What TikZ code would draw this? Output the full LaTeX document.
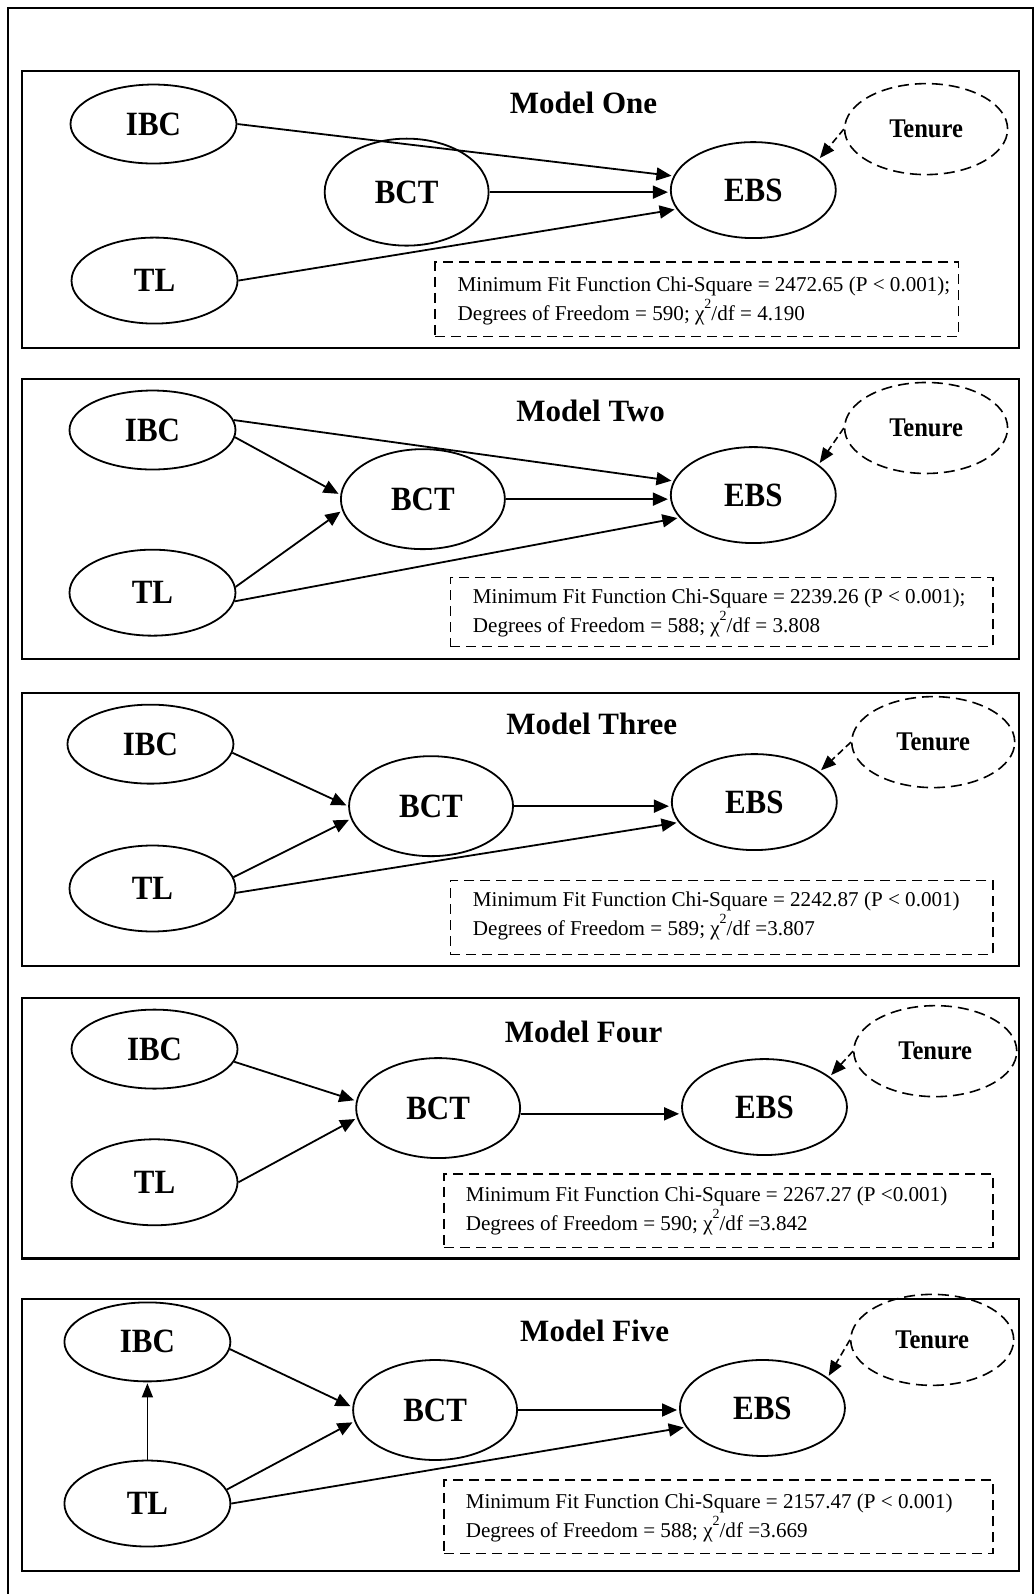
\documentclass[tikz,border=0pt]{standalone}
\usepackage{fontspec}
\setmainfont{Liberation Serif}
\newfontfamily\lblfont[FakeStretch=0.91]{Liberation Serif}
\usetikzlibrary{arrows.meta,shapes.geometric,fit}

\newcommand{\chisq}{χ\raisebox{0.55em}{\fontsize{14}{14}\selectfont 2}}

\begin{document}
\begin{tikzpicture}[x=1.0167pt,y=-1.0167pt,
  outer/.style={line width=2.2pt},
  modelbox/.style={draw, line width=2.2pt, inner sep=0pt},
  fitbox/.style={draw, line width=1.6pt, dash pattern=on 10pt off 6pt, inner sep=0pt},
  fittext/.style={anchor=west, align=left, inner sep=0pt,
    font=\fontsize{21.1}{28.5}\selectfont},
  title/.style={font=\fontsize{31}{36}\selectfont\bfseries, inner sep=0pt},
  var/.style={ellipse, draw, line width=1.8pt, inner sep=0pt,
    font=\lblfont\fontsize{34}{38}\selectfont\bfseries},
  ibcsz/.style={var, minimum width=166pt, minimum height=79pt},
  tlsz/.style={var, minimum width=166pt, minimum height=86pt},
  bctsz/.style={var, minimum width=164pt, minimum height=100pt},
  ebssz/.style={var, minimum width=165pt, minimum height=96pt},
  tenure/.style={ellipse, draw, line width=1.6pt, dash pattern=on 11pt off 6pt,
    inner sep=0pt, minimum width=163pt, minimum height=91pt,
    font=\lblfont\fontsize{27}{30}\selectfont\bfseries},
  arr/.style={-{Triangle[length=15pt,width=13pt]}, line width=1.8pt, shorten >=2pt},
  thinarr/.style={-{Triangle[length=14pt,width=11pt]}, line width=1.3pt, shorten >=1pt},
  tarr/.style={-{Triangle[length=15pt,width=12pt]}, line width=1.6pt,
    dash pattern=on 7pt off 4pt, shorten >=2pt}
]
\useasboundingbox (0,0) rectangle (1018,1568);

% outer frame (open at the bottom edge)
\draw[outer] (8,1568) -- (8,8) -- (1016,8) -- (1016,1568);

% ---------------- Model One ----------------
\node[modelbox, fit={(22,70) (1002,342)}] (m1) {};
\node[title] (t1) at (574,101) {Model One};
\node[ibcsz] (ibc1) at (151,122) {IBC};
\node[bctsz, minimum height=107pt] (bct1) at (400,189) {BCT};
\node[tlsz] (tl1) at (152,276) {TL};
\node[ebssz] (ebs1) at (741,187) {EBS};
\node[tenure] (ten1) at (911,127) {Tenure};
\node[fitbox, fit={(428,258) (943,331)}] (f1) {};
\node[fittext] (x1) at (450,296) {Minimum Fit Function Chi-Square = 2472.65 (P < 0.001);\\
  Degrees of Freedom = 590; \chisq/df = 4.190};
\draw[arr] (ibc1.east) -- (ebs1.170);
\draw[arr] (bct1.east) -- (bct1.east -| ebs1.west);
\draw[arr] (tl1.east) -- (ebs1.194);
\draw[tarr] (ten1.west) -- (ebs1.25);

% ---------------- Model Two ----------------
\node[modelbox, fit={(22,373) (1002,648)}] (m2) {};
\node[title] (t2) at (581,404) {Model Two};
\node[ibcsz] (ibc2) at (150,423) {IBC};
\node[bctsz] (bct2) at (416,491) {BCT};
\node[tlsz] (tl2) at (150,583) {TL};
\node[ebssz] (ebs2) at (741,487) {EBS};
\node[tenure] (ten2) at (911,421) {Tenure};
\node[fitbox, fit={(443,568) (977,636)}] (f2) {};
\node[fittext] (x2) at (465,603) {Minimum Fit Function Chi-Square = 2239.26 (P < 0.001);\\
  Degrees of Freedom = 588; \chisq/df = 3.808};
\draw[arr] (ibc2.7) -- (ebs2.170);
\draw[arr] (ibc2.-5) -- (bct2.177);
\draw[arr] (bct2.east) -- (bct2.east -| ebs2.west);
\draw[arr] (tl2.4) -- (bct2.188);
\draw[arr] (tl2.-6) -- (ebs2.197);
\draw[tarr] (ten2.west) -- (ebs2.25);

% ---------------- Model Three ----------------
\node[modelbox, fit={(22,682) (1002,950)}] (m3) {};
\node[title] (t3) at (582,712) {Model Three};
\node[ibcsz] (ibc3) at (148,732) {IBC};
\node[bctsz] (bct3) at (424,793) {BCT};
\node[tlsz] (tl3) at (150,874) {TL};
\node[ebssz] (ebs3) at (742,789) {EBS};
\node[tenure] (ten3) at (918,730) {Tenure};
\node[fitbox, fit={(443,866) (977,939)}] (f3) {};
\node[fittext] (x3) at (465,901) {Minimum Fit Function Chi-Square = 2242.87 (P < 0.001)\\
  Degrees of Freedom = 589; \chisq/df =3.807};
\draw[arr] (ibc3.-6) -- (bct3.180);
\draw[arr] (tl3.8) -- (bct3.189);
\draw[arr] (bct3.east) -- (bct3.east -| ebs3.west);
\draw[arr] (tl3.-3) -- (ebs3.195);
\draw[tarr] (ten3.west) -- (ebs3.25);

% ---------------- Model Four ----------------
\node[modelbox, fit={(22,982) (1002,1238)}] (m4) {};
\node[title] (t4) at (574,1015) {Model Four};
\node[ibcsz] (ibc4) at (152,1032) {IBC};
\node[bctsz] (bct4) at (431,1090) {BCT};
\node[tlsz] (tl4) at (152,1163) {TL};
\node[ebssz] (ebs4) at (752,1089) {EBS};
\node[tenure] (ten4) at (920,1034) {Tenure};
\node[fitbox, fit={(437,1155) (977,1227)}] (f4) {};
\node[fittext] (x4) at (458,1191) {Minimum Fit Function Chi-Square = 2267.27 (P <0.001)\\
  Degrees of Freedom = 590; \chisq/df =3.842};
\draw[arr] (ibc4.-9) -- (bct4.175);
\draw[arr] (tl4.east) -- (bct4.187);
\draw[arr] (bct4.-4) -- (bct4.-4 -| ebs4.west);
\draw[tarr] (ten4.west) -- (ebs4.25);

% ---------------- Model Five ----------------
\node[modelbox, fit={(22,1278) (1002,1545)}] (m5) {};
\node[title] (t5) at (585,1309) {Model Five};
\node[ibcsz] (ibc5) at (145,1320) {IBC};
\node[bctsz] (bct5) at (428,1387) {BCT};
\node[tlsz] (tl5) at (145,1479) {TL};
\node[ebssz] (ebs5) at (750,1385) {EBS};
\node[tenure] (ten5) at (917,1318) {Tenure};
\node[fitbox, fit={(437,1456) (977,1528)}] (f5) {};
\node[fittext] (x5) at (458,1493) {Minimum Fit Function Chi-Square = 2157.47 (P < 0.001)\\
  Degrees of Freedom = 588; \chisq/df =3.669};
\draw[thinarr] (tl5.north) -- (ibc5.south);
\draw[arr] (ibc5.-5) -- (bct5.178);
\draw[arr] (tl5.10) -- (bct5.188);
\draw[arr] (bct5.east) -- (bct5.east -| ebs5.west);
\draw[arr] (tl5.east) -- (ebs5.194);
\draw[tarr] (ten5.west) -- (ebs5.25);
\end{tikzpicture}
\end{document}
